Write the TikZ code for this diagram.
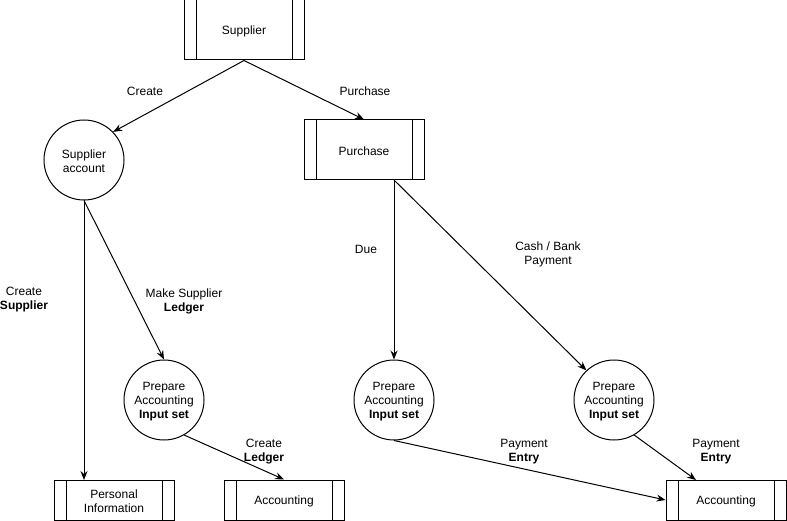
\documentclass[tikz,border=0pt]{standalone}
\usepackage{fontspec}
\setmainfont{Liberation Sans}
\usetikzlibrary{arrows.meta}
\begin{document}
\begin{tikzpicture}[x=1pt,y=-1pt,
  every node/.style={font=\fontsize{12}{14}\selectfont, align=center, inner sep=0pt},
  procbox/.style={draw, line width=1pt, minimum width=120pt, minimum height=#1,
    path picture={
      \draw[line width=1pt] ([xshift=12pt]path picture bounding box.north west) -- ([xshift=12pt]path picture bounding box.south west);
      \draw[line width=1pt] ([xshift=-12pt]path picture bounding box.north east) -- ([xshift=-12pt]path picture bounding box.south east);
    }},
  procbox/.default=60pt,
  bubble/.style={draw, line width=1pt, circle, minimum size=80pt},
  flow/.style={line width=1pt, -{Stealth[length=9pt,width=7pt,inset=3pt]}},
  lbl/.style={font=\fontsize{12}{14}\selectfont, yshift=-1.5pt}
]
\useasboundingbox (0,0) rectangle (787,521);

% processes / stores
\node[procbox] (sup) at (244,30) {};
\node[procbox] (pur) at (364,150) {};
\node[procbox=40pt] (pers) at (114,500) {};
\node[procbox=40pt] (accL) at (284,500) {};
\node[procbox=40pt] (accR) at (726,500) {};
\node[lbl] (supt) at (sup) {Supplier};
\node[lbl] (purt) at (pur) {Purchase};
\node[lbl] (perst) at (pers) {Personal\\Information};
\node[lbl] (accLt) at (accL) {Accounting};
\node[lbl] (accRt) at (accR) {Accounting};

% bubbles
\node[bubble] (sacc) at (84,160) {};
\node[bubble] (prep1) at (164,400) {};
\node[bubble] (prep2) at (394,400) {};
\node[bubble] (prep3) at (614,400) {};
\node[lbl] (sacct) at (sacc) {Supplier\\account};
\node[lbl] (prep1t) at (prep1) {Prepare\\Accounting\\\textbf{Input set}};
\node[lbl] (prep2t) at (prep2) {Prepare\\Accounting\\\textbf{Input set}};
\node[lbl] (prep3t) at (prep3) {Prepare\\Accounting\\\textbf{Input set}};

\coordinate (purOut) at (394,180);
\coordinate (persIn) at (84,480);
\coordinate (accRtop) at (696,480);

% connectors
\draw[flow] (sup.south) -- (sacc.44);
\draw[flow] (sup.south) -- (pur.north);
\draw[flow] (sacc.south) -- (persIn);
\draw[flow] (sacc.south) -- (prep1.north);
\draw[flow] (purOut) -- (prep2.north);
\draw[flow] (purOut) -- (prep3.133);
\draw[flow] (prep1.-60) -- (accL.north);
\draw[flow] (prep2.south) -- (accR.west);
\draw[flow] (prep3.-60) -- (accRtop);

% labels
\node[lbl] (l1) at (145,90) {Create};
\node[lbl] (l2) at (365,90) {Purchase};
\node[lbl] (l3) at (24,298) {Create\\\textbf{Supplier}};
\node[lbl] (l4) at (184,300) {Make Supplier\\\textbf{Ledger}};
\node[lbl] (l5) at (366,248) {Due};
\node[lbl] (l6) at (548,253) {Cash / Bank\\Payment};
\node[lbl] (l7) at (264,450) {Create\\\textbf{Ledger}};
\node[lbl] (l8) at (524,450) {Payment\\\textbf{Entry}};
\node[lbl] (l9) at (716,450) {Payment\\\textbf{Entry}};
\end{tikzpicture}
\end{document}
